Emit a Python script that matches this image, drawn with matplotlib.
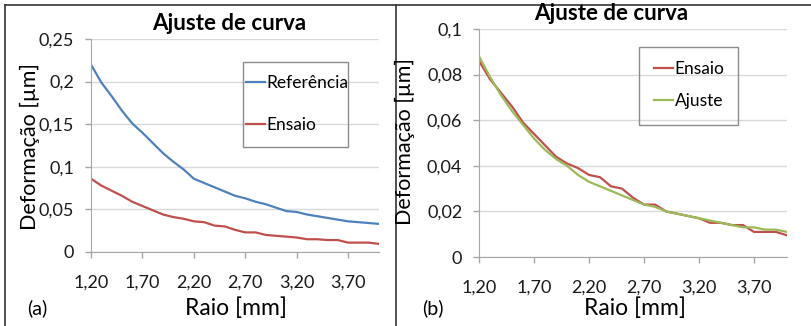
import matplotlib
matplotlib.use('Agg')
import matplotlib.pyplot as plt
from matplotlib.lines import Line2D
from matplotlib.patches import Rectangle

## two excel-style curve fit charts side by side

plt.rcParams['font.family'] = ['Lato', 'DejaVu Sans']

raio = [1.2, 1.3, 1.4, 1.5, 1.6, 1.7, 1.8, 1.9, 2.0, 2.1, 2.2, 2.3, 2.4, 2.5, 2.6,
        2.7, 2.8, 2.9, 3.0, 3.1, 3.2, 3.3, 3.4, 3.5, 3.6, 3.7, 3.8, 3.9, 4.0]

referencia = [0.220, 0.199, 0.183, 0.166, 0.151, 0.140, 0.128, 0.116, 0.106, 0.097,
              0.086, 0.081, 0.076, 0.071, 0.066, 0.063, 0.059, 0.056, 0.052, 0.048,
              0.047, 0.044, 0.042, 0.040, 0.038, 0.036, 0.035, 0.034, 0.033]

ensaio = [0.086, 0.078, 0.072, 0.066, 0.059, 0.054, 0.049, 0.044, 0.041, 0.039,
          0.036, 0.035, 0.031, 0.030, 0.026, 0.023, 0.023, 0.020, 0.019, 0.018,
          0.017, 0.015, 0.015, 0.014, 0.014, 0.011, 0.011, 0.011, 0.0095]

ajuste = [0.088, 0.079, 0.071, 0.064, 0.058, 0.052, 0.047, 0.043, 0.040, 0.036,
          0.033, 0.031, 0.029, 0.027, 0.025, 0.023, 0.022, 0.020, 0.019, 0.018,
          0.017, 0.016, 0.015, 0.014, 0.013, 0.013, 0.012, 0.012, 0.011]

xticks = [1.2, 1.7, 2.2, 2.7, 3.2, 3.7]
xlabels = ['1,20', '1,70', '2,20', '2,70', '3,20', '3,70']

BLUE = '#4F81BD'
RED = '#C0504D'
GREEN = '#9BBB59'
GRID = '#D9D9D9'
AX = '#A6A6A6'

W, H = 812, 326
fig = plt.figure(figsize=(W / 100, H / 100), dpi=100)


def px(x0, y0, x1, y1):
    # pixel box -> figure rect
    return [x0 / W, 1 - y1 / H, (x1 - x0) / W, (y1 - y0) / H]


def fmt(v):
    if v == 0:
        return '0'
    return ('%g' % v).replace('.', ',')


def style(ax, ymax, ystep):
    ax.set_xlim(1.2, 4.0)
    ax.set_ylim(0, ymax)
    ax.set_xticks(xticks)
    ax.set_xticklabels(xlabels)
    yt = [round(i * ystep, 3) for i in range(int(round(ymax / ystep)) + 1)]
    ax.set_yticks(yt)
    ax.set_yticklabels([fmt(v) for v in yt])
    ax.grid(axis='y', color=GRID, lw=1)
    ax.set_axisbelow(True)
    for s in ('top', 'right'):
        ax.spines[s].set_visible(False)
    for s in ('left', 'bottom'):
        ax.spines[s].set_color(AX)
    ax.tick_params(colors=AX, labelcolor='#1a1a1a', labelsize=13, length=4, width=1)
    ax.tick_params(axis='x', pad=12)
    ax.tick_params(axis='y', pad=8)


def legend(ax, x, y, spacing, box):
    # excel-like legend: tight sides, tall box
    leg = ax.legend(loc='upper left', bbox_to_anchor=(x / W, 1 - y / H), bbox_transform=fig.transFigure,
                    fontsize=12.5, frameon=False, labelspacing=spacing, handlelength=1.1,
                    handletextpad=0.1, borderpad=0, borderaxespad=0)
    x0, y0, x1, y1 = box
    fig.add_artist(Rectangle((x0 / W, 1 - y1 / H), (x1 - x0) / W, (y1 - y0) / H,
                             transform=fig.transFigure, fill=False, ec='#8c8c8c', lw=1))
    return leg


# (a)
ax1 = fig.add_axes(px(91, 39, 379, 252))
ax1.plot(raio, referencia, color=BLUE, lw=1.6, label='Referência')
ax1.plot(raio, ensaio, color=RED, lw=1.6, label='Ensaio')
style(ax1, 0.25, 0.05)
legend(ax1, 246, 75, 1.5, (243, 62, 348, 147))

# (b)
ax2 = fig.add_axes(px(479, 29, 787, 257))
ax2.plot(raio, ensaio, color=RED, lw=1.6, label='Ensaio')
ax2.plot(raio, ajuste, color=GREEN, lw=1.6, label='Ajuste')
style(ax2, 0.1, 0.02)
legend(ax2, 654, 61, 0.92, (639, 47, 738, 125))

# titles, labels
for cx, cy in ((229, 23), (611, 13)):
    fig.text(cx / W, 1 - cy / H, 'Ajuste de curva', ha='center', va='center',
             fontsize=16, fontweight='bold')
for cx, cy in ((30, 146), (405, 142)):
    fig.text(cx / W, 1 - cy / H, 'Deformação [µm]', ha='center', va='center',
             rotation=90, fontsize=15.5)
for cx in (236, 635):
    fig.text(cx / W, 1 - 308 / H, 'Raio [mm]', ha='center', va='center', fontsize=16.5)
fig.text(37 / W, 1 - 308 / H, '(a)', ha='center', va='center', fontsize=14)
fig.text(433 / W, 1 - 308 / H, '(b)', ha='center', va='center', fontsize=14)

# table borders
fig.add_artist(Line2D([5 / W, 1], [1 - 5 / H, 1 - 5 / H], color='#333333', lw=1.2))
for x in (5, 396):
    fig.add_artist(Line2D([x / W, x / W], [0, 1 - 5 / H], color='#333333', lw=1.2))

fig.savefig('out.png', dpi=100)
